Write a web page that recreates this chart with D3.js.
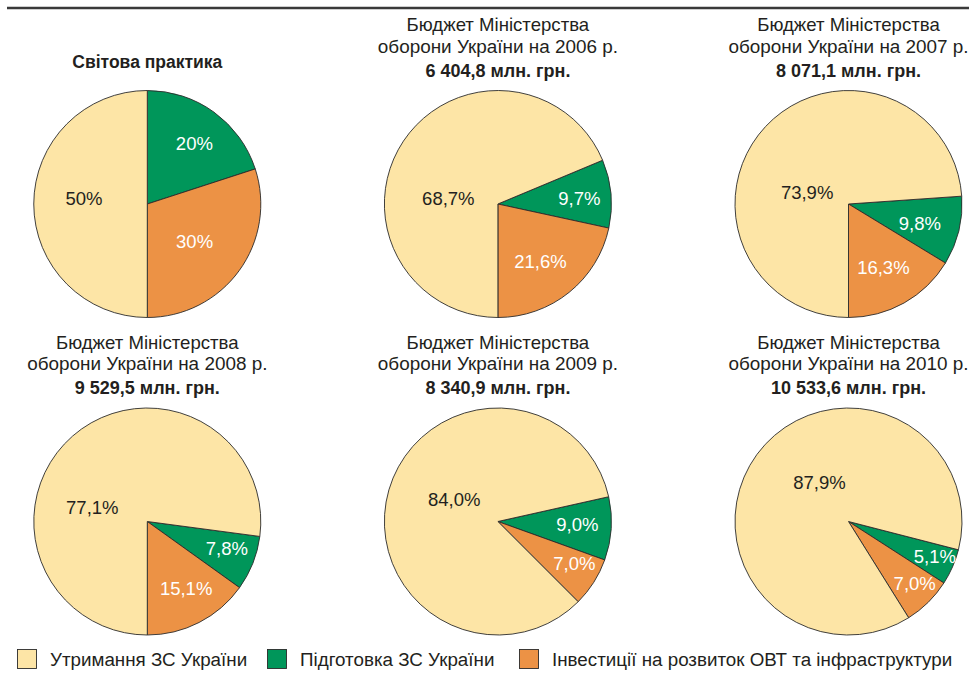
<!DOCTYPE html>
<html>
<head>
<meta charset="utf-8">
<script src="https://cdn.jsdelivr.net/npm/d3@7"></script>
<style>
  body { margin: 0; background: #fff; }
  text { font-family: "Liberation Sans", Arial, sans-serif; fill: #231f20; }
</style>
</head>
<body>
<script>
//data
var categories = ['Утримання ЗС України', 'Підготовка ЗС України', 'Інвестиції на розвиток ОВТ та інфраструктури'];
var years = [null, '2006', '2007', '2008', '2009', '2010'];
var totals = ['Світова практика', '6 404,8', '8 071,1', '9 529,5', '8 340,9', '10 533,6'];
var upkeep = [50, 68.7, 73.9, 77.1, 84.0, 87.9];
var training = [20, 9.7, 9.8, 7.8, 9.0, 5.1];
var investment = [30, 21.6, 16.3, 15.1, 7.0, 7.0];

//layout: where the orange slice ends (deg clockwise from 12 o'clock) and label spots [deg, share of radius]
var orangeEnd = [180, 180, 180, 180, 135, 148];
var labelSpots = [
	[[37.6, 0.68], [128.2, 0.53], [275, 0.56]],
	[[85.8, 0.72], [143.4, 0.63], [276.8, 0.44]],
	[[104.9, 0.65], [151.3, 0.64], [286.3, 0.38]],
	[[108.6, 0.74], [149.8, 0.68], [284.3, 0.50]],
	[[92, 0.70], [118.9, 0.77], [296.6, 0.43]],
	[[112, 0.82], [133.2, 0.80], [323.4, 0.43]]
];

var colors = {upkeep: '#fde5a6', training: '#00965a', investment: '#ec9245'};
var width = 969, height = 673;
var radius = 113.5;

var svg = d3.select('body').append('svg')
	.attr('width', width)
	.attr('height', height);

//rule at the top
svg.append('line')
	.attr('x1', 7).attr('x2', width)
	.attr('y1', 8).attr('y2', 8)
	.attr('stroke', '#3a3a3a')
	.attr('stroke-width', 2.5);

var colX = d3.scalePoint().domain([0, 1, 2]).range([147.3, 848.5]);
var rowY = d3.scalePoint().domain([0, 1]).range([204, 521.5]);

var arc = d3.arc().innerRadius(0).outerRadius(radius);
var fmt = function(v){ return d3.format('.1f')(v).replace('.', ',') + '%'; };

upkeep.forEach(function(u, i){
	var cx = colX(i % 3), cy = rowY(Math.floor(i / 3));
	var g = svg.append('g').attr('transform', 'translate(' + cx + ',' + cy + ')');

	var slices = [
		{key: 'training', value: training[i]},
		{key: 'investment', value: investment[i]},
		{key: 'upkeep', value: u}
	];
	var total = d3.sum(slices, function(d){ return d.value; });
	var a0 = orangeEnd[i] * Math.PI / 180 - (training[i] + investment[i]) / total * 2 * Math.PI;
	var pie = d3.pie().sort(null).value(function(d){ return d.value; })
		.startAngle(a0).endAngle(a0 + 2 * Math.PI);

	g.selectAll('path').data(pie(slices))
		.enter().append('path')
		.attr('d', arc)
		.attr('fill', function(d){ return colors[d.data.key]; })
		.attr('stroke', '#2b2b2b')
		.attr('stroke-width', 0.9);

	//percent labels
	g.selectAll('text.pct').data(slices)
		.enter().append('text')
		.attr('class', 'pct')
		.attr('x', function(d, j){ var s = labelSpots[i][j]; return Math.sin(s[0] * Math.PI / 180) * s[1] * radius; })
		.attr('y', function(d, j){ var s = labelSpots[i][j]; return -Math.cos(s[0] * Math.PI / 180) * s[1] * radius; })
		.attr('dy', '0.36em')
		.attr('text-anchor', 'middle')
		.style('font-size', '18.5px')
		.style('fill', function(d){ return d.key === 'upkeep' ? '#231f20' : '#fff'; })
		.text(function(d){ return i === 0 ? d.value + '%' : fmt(d.value); });

	//titles
	if(years[i] === null){
		g.append('text')
			.attr('y', -136)
			.attr('text-anchor', 'middle')
			.style('font-size', '17.5px')
			.style('font-weight', 'bold')
			.text(totals[i]);
	} else {
		g.append('text')
			.attr('y', -173)
			.attr('text-anchor', 'middle')
			.style('font-size', '18.6px')
			.text('Бюджет Міністерства');
		g.append('text')
			.attr('y', -151.5)
			.attr('text-anchor', 'middle')
			.style('font-size', '18.9px')
			.text('оборони України на ' + years[i] + ' р.');
		g.append('text')
			.attr('y', -127.3)
			.attr('text-anchor', 'middle')
			.style('font-size', '18px')
			.style('font-weight', 'bold')
			.text(totals[i] + ' млн. грн.');
	}
});

//legend
var legendKeys = ['upkeep', 'training', 'investment'];
var legendX = d3.scaleOrdinal().domain(legendKeys).range([17, 267, 519]);
categories.forEach(function(c, k){
	var x = legendX(legendKeys[k]);
	svg.append('rect')
		.attr('x', x + 0.5).attr('y', 649.5)
		.attr('width', 19).attr('height', 19)
		.attr('fill', colors[legendKeys[k]])
		.attr('stroke', '#2b2b2b')
		.attr('stroke-width', 0.9);
	svg.append('text')
		.attr('x', x + 33)
		.attr('y', 666)
		.style('font-size', '18.8px')
		.text(c);
});
</script>
</body>
</html>
